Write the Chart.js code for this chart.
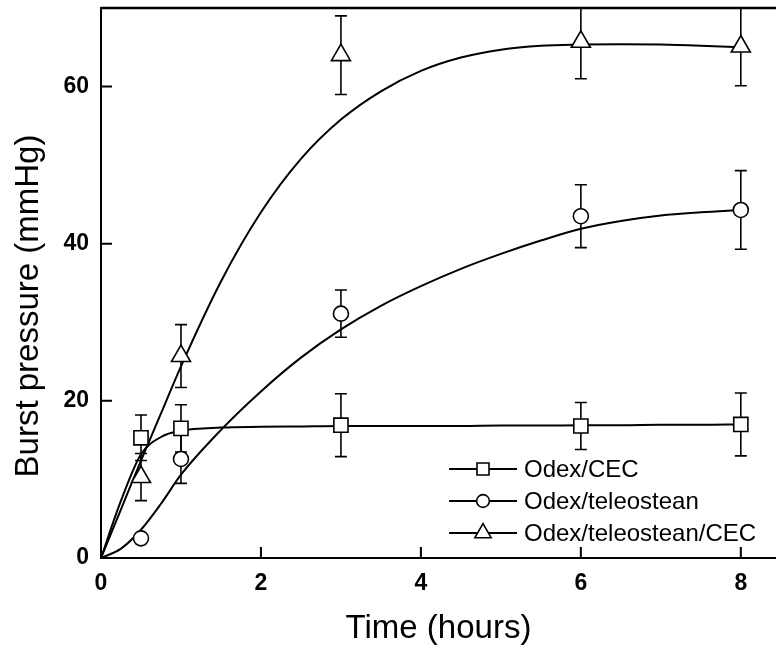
<!DOCTYPE html>
<html>
<head>
<meta charset="utf-8">
<script src="https://cdn.jsdelivr.net/npm/chart.js@4"></script>
<style>
  html, body { margin: 0; padding: 0; background: #fff; overflow: hidden; }
  #wrap { width: 776px; height: 656px; }
</style>
</head>
<body>
<div id="wrap"><canvas id="graph"></canvas></div>
<script>
// measured points (hours) and burst pressure (mmHg)
var times = [0.5, 1, 3, 6, 8]
var cec = [15.3, 16.5, 16.9, 16.8, 17.0]
var cecErr = [2.9, 3.0, 4.0, 3.0, 4.0]
var tel = [2.5, 12.6, 31.1, 43.5, 44.3]
var telErr = [0, 3.1, 3.0, 4.0, 5.0]
var telCec = [10.3, 25.7, 64.0, 65.7, 65.1]
var telCecErr = [3.0, 4.0, 5.0, 4.7, 5.0]

// fitted curves
var fitX = [0, 0.25, 0.5, 0.75, 1, 1.5, 2, 2.5, 3, 3.5, 4, 4.5, 5, 5.5, 6, 6.5, 7, 7.5, 8]
var fitCec = [0, 7.3, 13.2, 15.4, 16.2, 16.6, 16.7, 16.75, 16.8, 16.8, 16.8, 16.8, 16.85, 16.85, 16.9, 16.9, 16.95, 16.95, 17.0]
var fitTel = [0, 1.2, 3.6, 6.9, 10.6, 16.3, 21.2, 25.5, 29.1, 32.1, 34.6, 36.8, 38.7, 40.4, 41.9, 42.9, 43.6, 44.0, 44.3]
var fitTelCec = [0, 6.2, 12.4, 18.4, 24.4, 35.2, 44.0, 50.8, 55.8, 59.4, 62.0, 63.7, 64.7, 65.2, 65.35, 65.4, 65.35, 65.2, 65.0]

var labels = ["Odex/CEC", "Odex/teleostean", "Odex/teleostean/CEC"]
var xTicks = [0, 2, 4, 6, 8]
var yTicks = [0, 20, 40, 60]

function pts(xs, ys){
    return xs.map(function(x, i){ return {x: x, y: ys[i]} })
}

var markers = [
    {style: 'rect', radius: 10},
    {style: 'circle', radius: 7.5},
    {style: 'triangle', radius: 11}
]
var series = [[cec, cecErr], [tel, telErr], [telCec, telCecErr]]
var fits = [fitCec, fitTel, fitTelCec]

var datasets = []
series.forEach(function(s, i){
    datasets.push({
        label: labels[i],
        data: pts(times, s[0]),
        errors: s[1],
        showLine: false,
        pointStyle: markers[i].style,
        pointRadius: markers[i].radius,
        pointBackgroundColor: '#fff',
        pointBorderColor: '#000',
        pointBorderWidth: 1.6,
        order: 0
    })
})
fits.forEach(function(f){
    datasets.push({
        label: '',
        fit: true,
        data: pts(fitX, f),
        showLine: true,
        pointRadius: 0,
        borderColor: '#000',
        borderWidth: 2,
        cubicInterpolationMode: 'monotone',
        order: 1
    })
})

// error bars go under the markers
var errorBars = {
    id: 'errorBars',
    beforeDatasetsDraw: function(chart){
        var ctx = chart.ctx, xs = chart.scales.x, ys = chart.scales.y, a = chart.chartArea
        ctx.save()
        ctx.beginPath()
        ctx.rect(a.left, a.top, a.right - a.left, a.bottom - a.top)
        ctx.clip()
        ctx.strokeStyle = '#000'
        ctx.lineWidth = 1.6
        chart.data.datasets.forEach(function(ds){
            if (!ds.errors) return
            ds.data.forEach(function(p, i){
                var e = ds.errors[i]
                if (!e) return
                var px = xs.getPixelForValue(p.x)
                var top = ys.getPixelForValue(p.y + e)
                var bot = ys.getPixelForValue(p.y - e)
                ctx.beginPath()
                ctx.moveTo(px, top); ctx.lineTo(px, bot)
                ctx.moveTo(px - 6, top); ctx.lineTo(px + 6, top)
                ctx.moveTo(px - 6, bot); ctx.lineTo(px + 6, bot)
                ctx.stroke()
            })
        })
        ctx.restore()
    }
}

// inward ticks, top frame line, y title and legend inside the plot
var frame = {
    id: 'frame',
    afterDraw: function(chart){
        var ctx = chart.ctx, xs = chart.scales.x, ys = chart.scales.y, a = chart.chartArea
        ctx.save()
        ctx.strokeStyle = '#000'
        ctx.lineWidth = 2
        ctx.beginPath()
        xTicks.forEach(function(v){
            var px = xs.getPixelForValue(v)
            ctx.moveTo(px, a.bottom); ctx.lineTo(px, a.bottom - 11)
        })
        yTicks.forEach(function(v){
            var py = ys.getPixelForValue(v)
            ctx.moveTo(a.left, py); ctx.lineTo(a.left + 11, py)
        })
        ctx.stroke()
        ctx.lineWidth = 2.5
        ctx.beginPath()
        ctx.moveTo(a.left, a.top); ctx.lineTo(a.right, a.top)
        ctx.stroke()

        // y title, sits a bit below the middle in the original
        ctx.save()
        ctx.translate(29, (a.top + a.bottom) / 2 + 23)
        ctx.rotate(-Math.PI / 2)
        ctx.font = '33px "Liberation Sans", Arial, sans-serif'
        ctx.textAlign = 'center'
        ctx.textBaseline = 'middle'
        ctx.fillStyle = '#000'
        ctx.fillText('Burst pressure (mmHg)', 0, 0)
        ctx.restore()

        // legend
        var lx = a.left + 348, ly = a.top + 461
        ctx.font = '24px "Liberation Sans", Arial, sans-serif'
        ctx.textBaseline = 'middle'
        chart.data.datasets.forEach(function(ds, i){
            if (ds.fit) return
            var y = ly + i * 32
            ctx.strokeStyle = '#000'
            ctx.lineWidth = 2
            ctx.beginPath()
            ctx.moveTo(lx, y); ctx.lineTo(lx + 68, y)
            ctx.stroke()
            ctx.fillStyle = '#fff'
            ctx.lineWidth = 1.6
            Chart.helpers.drawPoint(ctx, {pointStyle: ds.pointStyle, radius: ds.pointRadius * 0.85, borderWidth: 1.6}, lx + 34, y)
            ctx.fillStyle = '#000'
            ctx.fillText(ds.label, lx + 75, y + 1)
        })
        ctx.restore()
    }
}

function crearGrafico(){
    var g = document.getElementById("graph").getContext('2d')
    var tickFont = {family: '"Liberation Sans", Arial, sans-serif', size: 23, weight: 'bold'}
    var titleFont = {family: '"Liberation Sans", Arial, sans-serif', size: 33}
    new Chart(g, {
        type: 'scatter',
        data: {datasets: datasets},
        options: {
            responsive: true,
            maintainAspectRatio: false,
            animation: false,
            layout: {autoPadding: false, padding: {top: 8, right: 0, left: 0, bottom: 0}},
            plugins: {legend: {display: false}, tooltip: {enabled: false}},
            scales: {
                x: {
                    type: 'linear',
                    min: 0,
                    max: 8.44,
                    grid: {display: false, drawTicks: false},
                    border: {display: true, color: '#000', width: 2},
                    ticks: {
                        stepSize: 2,
                        includeBounds: false,
                        color: '#000',
                        font: tickFont,
                        padding: 12
                    },
                    title: {display: true, text: 'Time (hours)', color: '#000', font: titleFont, padding: {top: 0, bottom: 7}},
                    afterFit: function(s){ s.height = 98; s.paddingLeft = 0; s.paddingRight = 0 }
                },
                y: {
                    min: 0,
                    max: 70,
                    grid: {display: false, drawTicks: false},
                    border: {display: true, color: '#000', width: 2},
                    ticks: {
                        stepSize: 20,
                        includeBounds: false,
                        color: '#000',
                        font: tickFont,
                        padding: 12
                    },
                    title: {display: false},
                    afterFit: function(s){ s.width = 101; s.paddingTop = 0; s.paddingBottom = 0 }
                }
            }
        },
        plugins: [errorBars, frame]
    })
}
document.addEventListener('DOMContentLoaded', crearGrafico)
</script>
</body>
</html>
